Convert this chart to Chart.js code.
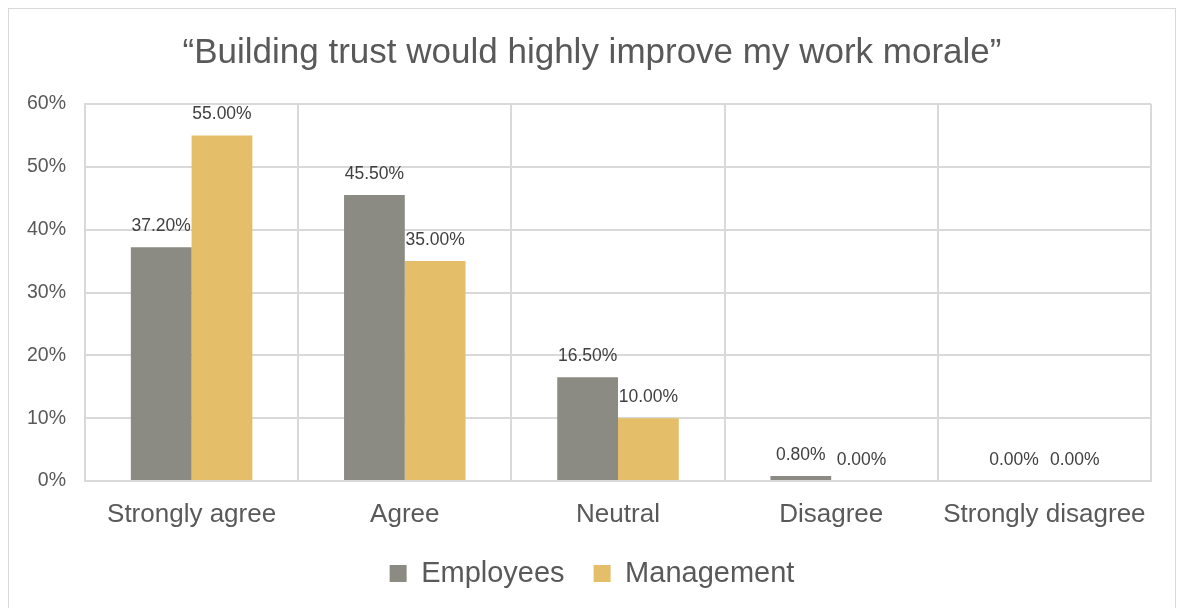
<!DOCTYPE html>
<html lang="en">
<head>
    <meta charset="UTF-8">
    <title>Building trust survey</title>
    <script src="https://cdn.jsdelivr.net/npm/chart.js"></script>
    <style>
        html, body { margin: 0; padding: 0; background: #fff; overflow: hidden; }
        #frame {
            position: absolute; left: 8px; top: 8px; width: 1166px; height: 620px;
            border: 1px solid #d9d9d9;
        }
        #wrap { position: absolute; left: 0; top: 0; width: 1184px; height: 608px; }
    </style>
</head>
<body>
    <div id="frame"></div>
    <div id="wrap"><canvas id="chart"></canvas></div>
    <script>
        const categories = ["Strongly agree", "Agree", "Neutral", "Disagree", "Strongly disagree"];
        const employees = [37.2, 45.5, 16.5, 0.8, 0.0];
        const management = [55.0, 35.0, 10.0, 0.0, 0.0];
        const yTicks = [0, 10, 20, 30, 40, 50, 60];

        const textColor = "#595959";
        const fontFamily = "'Liberation Sans', Arial, sans-serif";

        // value labels above each bar
        const barLabels = {
            id: "barLabels",
            afterDatasetsDraw(chart) {
                const ctx = chart.ctx;
                ctx.save();
                ctx.font = "17.5px " + fontFamily;
                ctx.fillStyle = "#404040";
                ctx.textAlign = "center";
                ctx.textBaseline = "middle";
                chart.data.datasets.forEach((ds, i) => {
                    chart.getDatasetMeta(i).data.forEach((bar, j) => {
                        ctx.fillText(ds.data[j].toFixed(2) + "%", bar.x, bar.y - 21);
                    });
                });
                ctx.restore();
            }
        };

        new Chart(document.getElementById("chart"), {
            type: "bar",
            data: {
                labels: categories,
                datasets: [
                    { label: "Employees", data: employees, backgroundColor: "#8b8b84" },
                    { label: "Management", data: management, backgroundColor: "#e4be69" }
                ]
            },
            options: {
                responsive: true,
                maintainAspectRatio: false,
                animation: false,
                layout: { padding: { left: 21, right: 21, top: 0, bottom: 10 } },
                datasets: { bar: { categoryPercentage: 0.57, barPercentage: 1.0 } },
                plugins: {
                    title: {
                        display: true,
                        text: "\u201cBuilding trust would highly improve my work morale\u201d",
                        color: textColor,
                        font: { family: fontFamily, size: 35, weight: "normal" },
                        padding: { top: 32, bottom: 30 }
                    },
                    legend: {
                        position: "bottom",
                        labels: {
                            color: textColor,
                            font: { family: fontFamily, size: 29 },
                            boxWidth: 17,
                            boxHeight: 17,
                            padding: 29
                        }
                    },
                    tooltip: { enabled: false }
                },
                scales: {
                    x: {
                        grid: { color: "#d9d9d9", lineWidth: 2, drawTicks: false, offset: true },
                        border: { color: "#d9d9d9", width: 2 },
                        ticks: {
                            color: textColor,
                            font: { family: fontFamily, size: 26 },
                            padding: 18
                        },
                        afterFit(scale) { scale.height = 49; }
                    },
                    y: {
                        min: 0,
                        max: 60,
                        afterBuildTicks(scale) {
                            scale.ticks = yTicks.map(v => ({ value: v }));
                        },
                        grid: { color: "#d9d9d9", lineWidth: 2, drawTicks: false },
                        border: { color: "#d9d9d9", width: 2 },
                        ticks: {
                            color: textColor,
                            font: { family: fontFamily, size: 19.5 },
                            padding: 19,
                            callback: v => v + "%"
                        },
                        afterFit(scale) { scale.width = 64; }
                    },
                    // empty spacer on the right so the title stays centred on the page
                    spacer: {
                        type: "linear",
                        position: "right",
                        grid: { display: false },
                        border: { display: false },
                        ticks: { display: false },
                        afterFit(scale) { scale.width = 12; }
                    }
                }
            },
            plugins: [barLabels]
        });
    </script>
</body>
</html>
